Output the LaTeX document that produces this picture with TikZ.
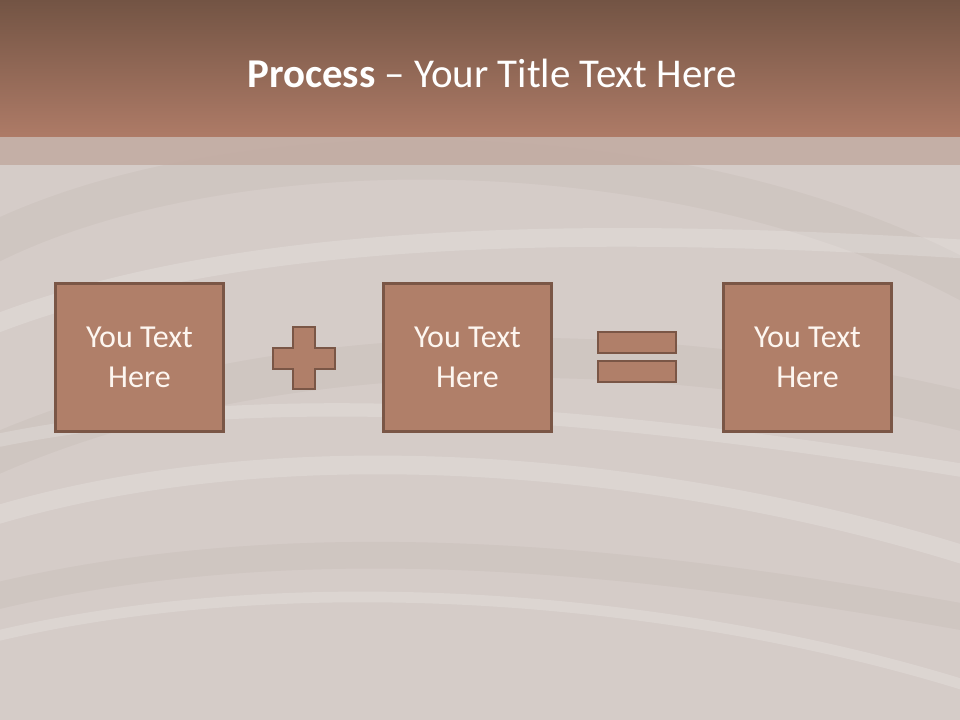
\documentclass[tikz,border=0pt]{standalone}
\usepackage{fontspec}
\setmainfont{Carlito}
\usetikzlibrary{calc}
\definecolor{bgc}{HTML}{D5CCC8}
\definecolor{hdtop}{HTML}{735444}
\definecolor{hdbot}{HTML}{AE7B67}
\definecolor{strip}{HTML}{C2AAA1}
\definecolor{boxfill}{HTML}{B07F69}
\definecolor{boxline}{HTML}{7A5646}
\definecolor{txt}{HTML}{FDF6F0}
\tikzset{
  stepbox/.style={draw=boxline, line width=2.2pt*0.75, fill=boxfill, minimum width=168*0.75pt, minimum height=148*0.75pt, inner sep=0pt, align=center, text=txt, font=\fontsize{24}{30}\selectfont},
  signbar/.style={draw=boxline, line width=2.2pt*0.75, fill=boxfill},
  swirl/.style={white, opacity=0.18, line width=14pt, line cap=round},
  swirldark/.style={black!60!brown, opacity=0.04, line width=30pt, line cap=round}
}
\begin{document}
\begin{tikzpicture}[x=0.75pt, y=-0.75pt]
\useasboundingbox (0,0) rectangle (960,720);
\fill[bgc] (0,0) rectangle (960,720);
% faint background swirls
\begin{scope}
\clip (0,0) rectangle (960,720);
\draw[swirldark] (-40,260) .. controls (200,120) and (700,120) .. (1000,300);
\draw[swirldark] (-40,470) .. controls (250,330) and (650,330) .. (1000,420);
\draw[swirl] (-20,330) .. controls (250,220) and (650,230) .. (980,250);
\draw[swirl] (-20,520) .. controls (300,420) and (700,470) .. (980,560);
\draw[swirl, line width=8pt] (-20,640) .. controls (300,560) and (700,600) .. (980,690);
\draw[swirl, line width=10pt] (0,440) .. controls (300,380) and (650,420) .. (960,470);
\draw[swirldark, line width=20pt] (-20,600) .. controls (300,520) and (650,560) .. (980,620);
\end{scope}
% header
\shade[top color=hdtop, bottom color=hdbot] (0,0) rectangle (960,137);
\fill[strip, opacity=0.85] (0,137) rectangle (960,165);
\node[text=white, font=\fontsize{30.7}{36}\selectfont, anchor=base] (title) at (492,88) {\textbf{Process} – Your Title Text Here};
% boxes
\node[stepbox] (b1) at (139.5,357.5) {You Text\\Here};
\node[stepbox] (b2) at (467.5,357.5) {You Text\\Here};
\node[stepbox] (b3) at (807.5,357.5) {You Text\\Here};
% plus sign
\draw[signbar] (293,327) -- (315,327) -- (315,348) -- (335,348) -- (335,369) -- (315,369) -- (315,389) -- (293,389) -- (293,369) -- (273,369) -- (273,348) -- (293,348) -- cycle;
\node[inner sep=0pt, minimum size=0pt] (plus) at (304,358) {};
% equal sign
\draw[signbar] (598,332) rectangle (676,353);
\draw[signbar] (598,361) rectangle (676,382);
\node[inner sep=0pt, minimum size=0pt] (eq) at (637,357) {};
\end{tikzpicture}
\end{document}
